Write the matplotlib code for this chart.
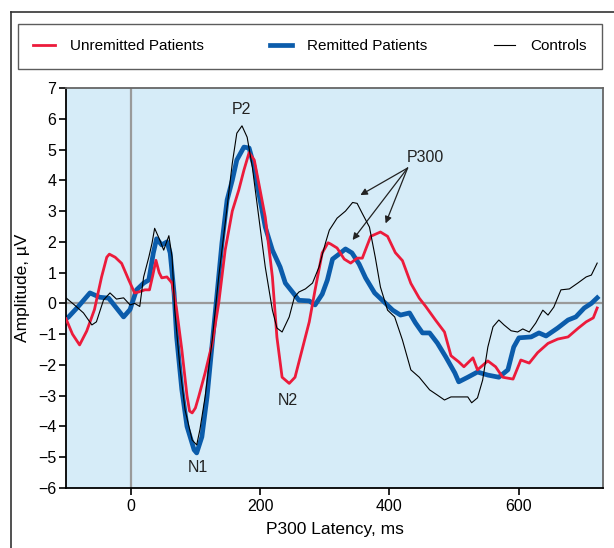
import matplotlib
matplotlib.use("Agg")
import matplotlib.pyplot as plt
from matplotlib.lines import Line2D

plt.rcParams['font.family'] = ['Liberation Sans Narrow', 'Liberation Sans', 'DejaVu Sans']

# ---- data (ms, microvolts) ----
t_red = [-100, -90, -79, -68, -56, -45, -37, -33, -24, -14, -3, 6, 12, 22, 29, 34, 39, 44, 48, 56,
         64, 71, 79, 87, 91, 95, 100, 105, 115, 126, 136, 146, 157, 167, 175, 183, 191, 198, 208, 219,
         226, 234, 245, 254, 265, 276, 285, 296, 305, 309, 319, 330, 340, 350, 358, 364, 371, 386, 397, 409,
         420, 433, 446, 456, 471, 485, 495, 507, 515, 529, 536, 552, 564, 575, 591, 603, 616, 629, 645, 660,
         676, 692, 704, 715, 721]
v_red = [-0.5, -1.0, -1.35, -0.9, -0.2, 0.86, 1.5, 1.6, 1.5, 1.3, 0.76, 0.34, 0.37, 0.44, 0.44, 0.9, 1.4, 1.0, 0.83, 0.86,
         0.66, -0.2, -1.5, -3.0, -3.5, -3.56, -3.4, -3.04, -2.26, -1.3, 0.0, 1.73, 3.0, 3.68, 4.33, 4.9, 4.66, 3.9, 2.8, 0.86,
         -1.1, -2.4, -2.6, -2.4, -1.5, -0.6, 0.44, 1.64, 1.97, 1.93, 1.8, 1.44, 1.31, 1.47, 1.47, 1.8, 2.18, 2.32, 2.18, 1.65,
         1.39, 0.65, 0.17, -0.1, -0.54, -0.93, -1.7, -1.9, -2.06, -1.77, -2.16, -1.87, -2.06, -2.4, -2.46, -1.84, -1.94, -1.6, -1.3, -1.16,
         -1.09, -0.8, -0.6, -0.47, -0.15]

t_blue = [-100, -96, -81, -63, -48, -34, -22, -11, -1, 9, 20, 28, 35, 40, 48, 56, 61, 67, 71, 79,
          87, 98, 102, 110, 118, 126, 133, 141, 149, 157, 164, 175, 183, 191, 198, 208, 219, 231, 239, 250,
          260, 276, 285, 296, 304, 312, 322, 332, 342, 353, 363, 377, 389, 405, 417, 431, 440, 451, 462, 474,
          487, 501, 507, 521, 536, 552, 569, 583, 592, 600, 619, 631, 642, 660, 676, 688, 701, 712, 721]
v_blue = [-0.5, -0.44, -0.1, 0.34, 0.2, 0.17, -0.15, -0.44, -0.2, 0.44, 0.66, 0.76, 1.64, 2.1, 1.9, 2.0, 1.64, 0.34, -1.09, -2.8,
          -4.0, -4.76, -4.86, -4.34, -3.04, -1.3, 0.2, 1.96, 3.36, 4.0, 4.66, 5.08, 5.05, 4.43, 3.58, 2.48, 1.73, 1.18, 0.66, 0.37,
          0.1, 0.08, -0.05, 0.3, 0.76, 1.44, 1.6, 1.77, 1.64, 1.28, 0.83, 0.34, 0.1, -0.22, -0.38, -0.31, -0.63, -0.96, -0.96, -1.29,
          -1.74, -2.26, -2.55, -2.4, -2.23, -2.33, -2.4, -2.16, -1.42, -1.12, -1.09, -0.96, -1.06, -0.8, -0.54, -0.44, -0.15, 0.0, 0.18]

t_ctrl = [-100, -87, -73, -60, -53, -42, -32, -22, -11, -1, 6, 14, 20, 28, 33, 37, 45, 51, 59, 64,
          68, 76, 84, 95, 102, 107, 115, 126, 136, 146, 157, 164, 172, 180, 188, 198, 208, 219, 226, 234,
          245, 253, 260, 270, 281, 291, 301, 307, 319, 332, 343, 350, 358, 369, 378, 386, 397, 408, 420, 433,
          446, 462, 474, 485, 495, 507, 513, 521, 527, 536, 544, 552, 560, 569, 577, 588, 598, 606, 616, 626,
          637, 645, 654, 665, 678, 691, 704, 712, 721]
v_ctrl = [0.18, -0.05, -0.31, -0.7, -0.6, 0.11, 0.34, 0.14, 0.18, -0.05, 0.0, -0.1, 0.86, 1.5, 1.96, 2.44, 2.06, 1.73, 2.2, 1.5,
          -0.2, -2.06, -3.46, -4.44, -4.6, -4.1, -3.04, -1.19, 0.86, 2.6, 4.55, 5.53, 5.77, 5.4, 4.43, 2.8, 1.18, -0.22, -0.8, -0.93,
          -0.44, 0.2, 0.37, 0.47, 0.66, 1.18, 1.96, 2.38, 2.77, 3.0, 3.28, 3.25, 2.92, 2.48, 1.5, 0.53, -0.22, -0.44, -1.19, -2.16,
          -2.4, -2.81, -2.98, -3.14, -3.04, -3.04, -3.04, -3.04, -3.23, -3.07, -2.49, -1.42, -0.76, -0.54, -0.7, -0.89, -0.93, -0.83, -0.93, -0.64,
          -0.22, -0.38, -0.12, 0.44, 0.47, 0.66, 0.86, 0.92, 1.31]

series_names = ['Unremitted Patients', 'Remitted Patients', 'Controls']
x_ticks = [0, 200, 400, 600]
y_ticks = list(range(-6, 8))

RED = '#EC1B3B'
BLUE = '#0B5CAB'
BG = '#D6ECF8'

fig = plt.figure(figsize=(6.14, 5.48), dpi=100)
ax = fig.add_axes([66 / 614, 1 - 488 / 548, (603 - 66) / 614, (488 - 88) / 548])
ax.set_facecolor(BG)

ax.axhline(0, color='#9A9A9A', lw=1.6, zorder=1)
ax.axvline(0, color='#9A9A9A', lw=1.6, zorder=1)

l_red, = ax.plot(t_red, v_red, color=RED, lw=2.0, zorder=3, solid_joinstyle='round')
l_blue, = ax.plot(t_blue, v_blue, color=BLUE, lw=3.4, zorder=2, solid_joinstyle='round')
l_ctrl, = ax.plot(t_ctrl, v_ctrl, color='black', lw=0.8, zorder=4)

ax.set_xlim(-100, 730)
ax.set_ylim(-6, 7)
ax.set_xticks(x_ticks)
ax.set_yticks(y_ticks)
ax.set_yticklabels([str(v).replace('-', '\u2212') for v in y_ticks])
ax.tick_params(axis='both', direction='out', length=5, width=1.2, labelsize=11.5, colors='black')
ax.tick_params(axis='x', pad=3)
ax.tick_params(axis='y', pad=2)
for s in ['left', 'bottom']:
    ax.spines[s].set_color('black')
    ax.spines[s].set_linewidth(1.3)
for s in ['top', 'right']:
    ax.spines[s].set_color('#666666')
    ax.spines[s].set_linewidth(1.3)

ax.set_xlabel('P300 Latency, ms', fontsize=12.5, labelpad=6)
ax.set_ylabel('Amplitude, \u00b5V', fontsize=12.5, labelpad=6)

# peak labels
ax.text(171, 6.3, 'P2', fontsize=11.5, ha='center', va='center', color='#222222')
ax.text(104, -5.35, 'N1', fontsize=11.5, ha='center', va='center', color='#222222')
ax.text(243, -3.17, 'N2', fontsize=11.5, ha='center', va='center', color='#222222')
ax.text(456, 4.73, 'P300', fontsize=11.5, ha='center', va='center', color='#222222')
for hx, hy in [(355, 3.52), (343, 2.06), (394, 2.6)]:
    ax.annotate('', xy=(hx, hy), xytext=(428, 4.4),
                arrowprops=dict(arrowstyle='-|>', color='#222222', lw=0.9,
                                mutation_scale=10, shrinkA=0, shrinkB=0))

# legend
leg = fig.legend([l_red, l_blue, l_ctrl], series_names, loc='center', ncol=3,
                 bbox_to_anchor=(18 / 614, 1 - 69 / 548, 584 / 614, 45 / 548),
                 mode='expand', frameon=True, fancybox=False, fontsize=11,
                 handlelength=1.4, handletextpad=1.0, borderaxespad=0, borderpad=1.0)
leg.get_frame().set_edgecolor('#333333')
leg.get_frame().set_linewidth(1.0)

# outer frame
fig.add_artist(Line2D([11 / 614, 11 / 614], [0, 1 - 12 / 548], transform=fig.transFigure, color='#333333', lw=1.2))
fig.add_artist(Line2D([11 / 614, 1], [1 - 12 / 548, 1 - 12 / 548], transform=fig.transFigure, color='#333333', lw=1.2))

fig.savefig('out.png', dpi=100)
